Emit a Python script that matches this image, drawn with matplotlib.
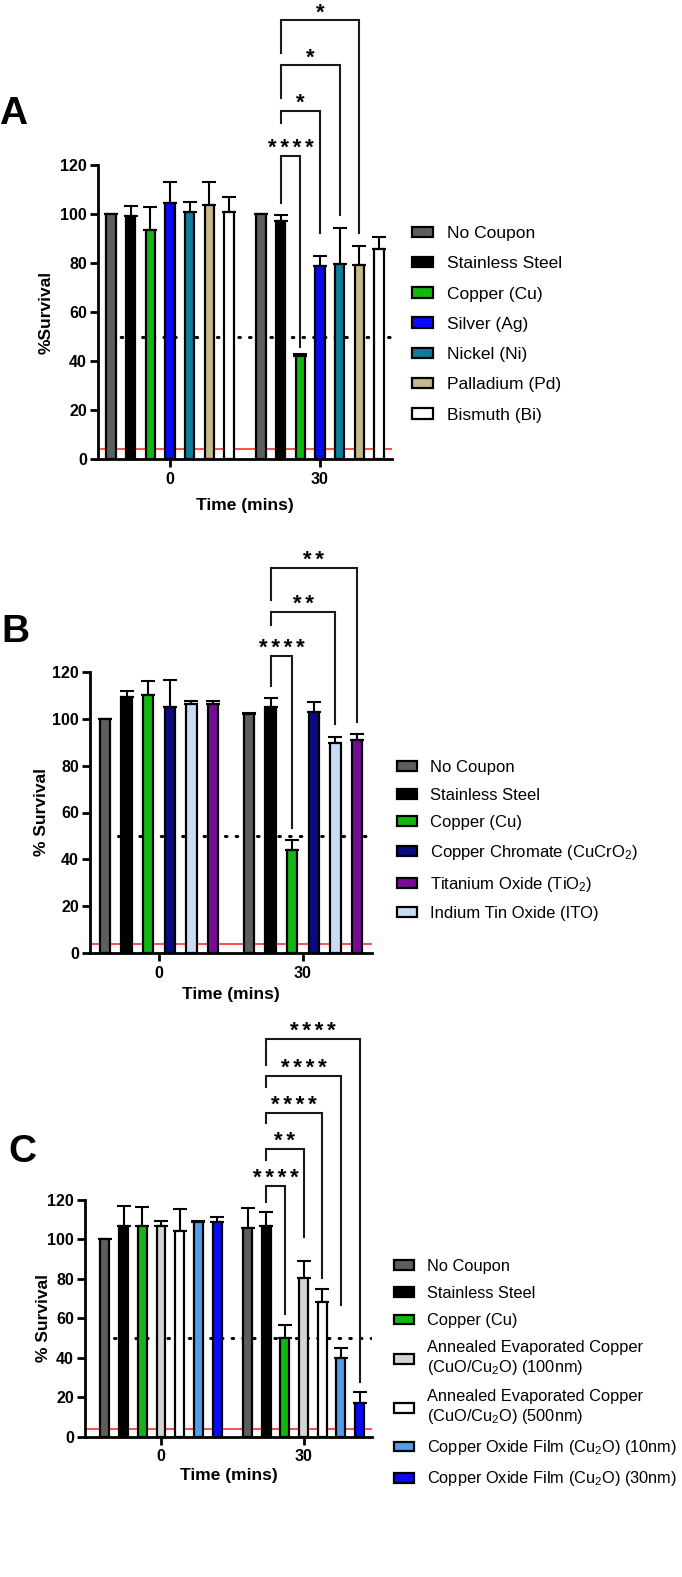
import matplotlib
matplotlib.use("Agg")
import matplotlib.pyplot as plt
from matplotlib.patches import Patch

plt.rcParams["font.family"] = ["Liberation Sans", "DejaVu Sans"]
plt.rcParams["mathtext.fontset"] = "custom"
plt.rcParams["mathtext.rm"] = "Liberation Sans"
plt.rcParams["mathtext.it"] = "Liberation Sans:italic"
plt.rcParams["mathtext.bf"] = "Liberation Sans:bold"

# ---- data ----
times = ["0", "30"]

# panel A
labels_a = ["No Coupon", "Stainless Steel", "Copper (Cu)", "Silver (Ag)",
            "Nickel (Ni)", "Palladium (Pd)", "Bismuth (Bi)"]
colors_a = ["#5e5e5e", "#000000", "#14b614", "#0a0af5", "#0f7c98", "#c4b98a", "#ffffff"]
a_t0 = [100, 99.2, 93.5, 104.6, 101, 103.6, 101]
a_t0_err = [0, 4.1, 9.5, 8.6, 3.8, 9.3, 5.8]
a_t30 = [100, 97, 42, 78.7, 79.6, 79.3, 85.9]
a_t30_err = [0, 2.4, 1.0, 4.3, 14.8, 7.6, 4.9]
# (target bar, bracket top, left leg end, right leg end, label)
brackets_a = [(2, 123.7, 104.5, 45.7, "****"),
              (3, 142.2, 137.1, 92.2, "*"),
              (4, 160.8, 147.3, 99.6, "*"),
              (5, 179.2, 165.8, 92.2, "*")]

# panel B
labels_b = ["No Coupon", "Stainless Steel", "Copper (Cu)", "Copper Chromate (CuCrO$_2$)",
            "Indium Tin Oxide (ITO)", "Titanium Oxide (TiO$_2$)"]
colors_b = ["#5e5e5e", "#000000", "#14b614", "#0a0a82", "#c8dcf4", "#760c96"]
b_t0 = [100, 109.4, 110, 104.8, 106.1, 106.1]
b_t0_err = [0, 2.4, 6.2, 11.7, 1.6, 1.6]
b_t30 = [101.8, 104.8, 44, 103, 89.8, 90.9]
b_t30_err = [0.8, 3.9, 4.3, 4.0, 2.5, 2.6]
legend_order_b = [0, 1, 2, 3, 5, 4]
brackets_b = [(2, 126.7, 114.0, 53.4, "****"),
              (4, 145.4, 139.9, 97.7, "**"),
              (5, 164.2, 150.5, 98.7, "**")]

# panel C
labels_c = ["No Coupon", "Stainless Steel", "Copper (Cu)",
            "Annealed Evaporated Copper\n(CuO/Cu$_2$O) (100nm)",
            "Annealed Evaporated Copper\n(CuO/Cu$_2$O) (500nm)",
            "Copper Oxide Film (Cu$_2$O) (10nm)",
            "Copper Oxide Film (Cu$_2$O) (30nm)"]
colors_c = ["#5e5e5e", "#000000", "#14b614", "#d4d4d4", "#ffffff", "#539def", "#0a0af5"]
c_t0 = [100, 107, 106.8, 107, 104.4, 108.8, 109]
c_t0_err = [0, 10, 9.5, 2.5, 10.9, 0.8, 2.4]
c_t30 = [106, 106.8, 49.8, 80.6, 68.4, 40, 16.9]
c_t30_err = [10.1, 7.1, 6.8, 8.4, 6.5, 5.1, 5.6]
brackets_c = [(2, 127.3, 118.9, 62.0, "****"),
              (3, 145.9, 140.3, 101.4, "**"),
              (4, 164.3, 158.9, 80.3, "****"),
              (5, 182.9, 177.5, 66.8, "****"),
              (6, 201.7, 188.2, 27.9, "****")]

W, H = 682, 1577
fig = plt.figure(figsize=(W / 100, H / 100), dpi=100)


def px_axes(left, top, right, bottom):
    return fig.add_axes([left / W, 1 - bottom / H, (right - left) / W, (bottom - top) / H])


def panel(ax, labels, colors, t0, t0e, t30, t30e, step, xlim, brackets,
          ylabel, ylab_x, xlab_y, dot_start):
    n = len(labels)
    width = 0.48 * step
    handles = []
    for g, (vals, errs) in enumerate([(t0, t0e), (t30, t30e)]):
        xs = [g + (i - (n - 1) / 2) * step for i in range(n)]
        ax.bar(xs, vals, width=width, color=colors, edgecolor="black",
               linewidth=1.6, zorder=3)
        ax.errorbar(xs, vals, yerr=[[0] * n, errs], fmt="none", ecolor="black",
                    elinewidth=1.5, capsize=5, capthick=1.5, zorder=2)
    for i in range(n):
        handles.append(Patch(facecolor=colors[i], edgecolor="black", linewidth=1.6))

    ax.axhline(4, color="#ff3030", lw=1.2, zorder=1)
    ax.axhline(50, xmin=dot_start, xmax=1, color="black", lw=2.2,
               linestyle=(0, (0.5, 3.0)), dash_capstyle="round", zorder=1)

    # significance brackets from stainless steel at 30 min
    x_left = 1 + (1 - (n - 1) / 2) * step
    for target, top, lend, rend, txt in brackets:
        x_right = 1 + (target - (n - 1) / 2) * step
        ax.plot([x_left, x_left, x_right, x_right], [lend, top, top, rend],
                color="#1a1a1a", lw=1.5, clip_on=False, solid_joinstyle="miter")
        ax.annotate("\u2006".join(txt), xy=((x_left + x_right) / 2, top),
                    xytext=(0, 1.2), textcoords="offset points",
                    ha="center", va="baseline", fontsize=16, fontweight="bold",
                    annotation_clip=False)

    ax.set_xlim(*xlim)
    ax.set_ylim(0, 120)
    ax.set_yticks(range(0, 121, 20))
    ax.set_xticks([0, 1])
    ax.set_xticklabels(times)
    for s in ["top", "right"]:
        ax.spines[s].set_visible(False)
    for s in ["left", "bottom"]:
        ax.spines[s].set_linewidth(2)
    ax.tick_params(width=2, length=6, labelsize=11.5, pad=2)
    ax.tick_params(axis="x", pad=3)
    for lab in ax.get_xticklabels() + ax.get_yticklabels():
        lab.set_fontweight("bold")
    ax.set_ylabel(ylabel, fontsize=12.5, fontweight="bold")
    ax.set_xlabel("Time (mins)", fontsize=12.5, fontweight="bold")
    ax.yaxis.set_label_coords(ylab_x, 0.5)
    ax.xaxis.set_label_coords(0.5, xlab_y)
    return handles


legend_kw = dict(loc="upper left", frameon=False, borderpad=0, borderaxespad=0,
                 handlelength=1.2, handleheight=0.55, handletextpad=0.8)

# A
ax_a = px_axes(98, 165, 392, 459)
h_a = panel(ax_a, labels_a, colors_a, a_t0, a_t0_err, a_t30, a_t30_err,
            19.67 / 150, (-0.48, 1.48), brackets_a, "%Survival", -0.151, -0.133, 0.04)
fig.legend(h_a, labels_a, bbox_to_anchor=(412 / W, 1 - 226 / H), fontsize=12.5,
           labelspacing=0.88, **legend_kw)

# B
ax_b = px_axes(90, 671.7, 372, 953.3)
h_b = panel(ax_b, labels_b, colors_b, b_t0, b_t0_err, b_t30, b_t30_err,
            21.6 / 144, (-0.479, 1.479), brackets_b, "% Survival", -0.147, -0.12, 0.1)
fig.legend([h_b[i] for i in legend_order_b], [labels_b[i] for i in legend_order_b],
           bbox_to_anchor=(397 / W, 1 - 760 / H), fontsize=12, labelspacing=0.76,
           **legend_kw)

# C
ax_c = px_axes(85, 1200, 372, 1436.7)
h_c = panel(ax_c, labels_c, colors_c, c_t0, c_t0_err, c_t30, c_t30_err,
            18.67 / 142.5, (-0.533, 1.48), brackets_c, "% Survival", -0.12, -0.132, 0.1)
fig.legend(h_c, labels_c, bbox_to_anchor=(394 / W, 1 - 1259 / H), fontsize=11.8,
           labelspacing=0.74, **legend_kw)

# panel letters
for letter, x, y in [("A", 13, 114), ("B", 15, 632), ("C", 22, 1152)]:
    fig.text(x / W, 1 - y / H, letter, fontsize=28, fontweight="bold",
             ha="center", va="center")

fig.savefig("out.png", dpi=100)
